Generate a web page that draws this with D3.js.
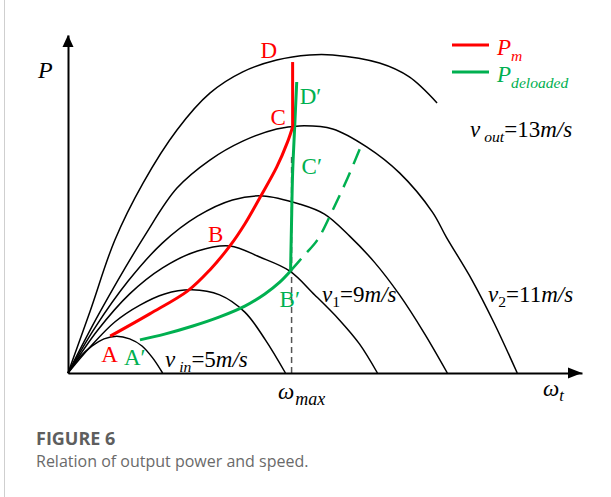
<!DOCTYPE html>
<html>
<head>
<meta charset="utf-8">
<script src="https://cdn.jsdelivr.net/npm/d3@7"></script>
<style>
  html, body { margin: 0; padding: 0; background: #fff; }
  svg { display: block; }
</style>
</head>
<body>
<svg id="chart" width="611" height="497"></svg>
<script>
// Turbine power vs rotor speed, one curve per wind speed: [omega, P]
const curveVin = [[0,0],[2.3,4.7],[4.7,8.0],[7.0,10.1],[9.5,10.9],[12.0,10.1],[14.4,8.0],[16.5,4.4],[18.4,0]];
const curveV7 = [[0,0],[4.3,7.7],[9.1,15.1],[14.0,20.1],[18.8,23.4],[24.1,24.6],[29.5,23.1],[34.4,18.0],[38.4,9.8],[42.3,0]];
const curveV1 = [[0,0],[5.8,12.7],[12.0,23.4],[18.4,31.1],[25.2,36.1],[31.5,37.6],[37.3,34.3],[43.1,30.2],[48.0,23.1],[52.8,15.7],[56.7,8.6],[60.2,0]];
const curveV10 = [[0,0],[5.2,13.3],[11.7,27.2],[18.4,38.5],[25.2,46.4],[32.0,51.2],[37.9,52.4],[45.0,50.0],[49.9,47.0],[54.8,40.5],[59.6,32.8],[64.5,23.1],[69.3,11.8],[73.8,0]];
const curveV2 = [[0,0],[6.2,18.0],[15.0,40.8],[21.2,54.7],[27.6,63.0],[34.0,68.6],[40.6,72.2],[45.0,73.1],[51.5,72.2],[58.1,66.9],[64.5,59.2],[70.9,47.6],[73.6,40.2],[78.6,27.5],[82.9,14.8],[87.4,0]];
const curveVout = [[0,0],[4.3,18.3],[9.1,39.3],[14.6,56.2],[21.2,71.9],[27.6,82.8],[34.0,89.1],[40.6,92.6],[47.0,94.1],[51.5,94.1],[60.6,91.7],[66.4,87.6],[71.8,79.9]];
const powerCurves = [curveVin, curveV7, curveV1, curveV10, curveV2, curveVout];

// Maximum rotor speed
const omegaMax = 43.5;
const omegaMaxLineTop = 64;

// P_m trajectory A -> B -> C, then C -> D at omega_max
const pmTrack = [[8.2,10.9],[15.9,17.5],[23.3,24.3],[27.6,30.5],[31.5,37.6],[34.4,44.1],[37.3,51.8],[40.6,60.9],[42.7,68.3],[43.7,72.8]];
const pmTop = [[43.7,72.8],[43.7,92.0]];

// P_deloaded: A' -> B' arc, B' -> D' rise, and dashed branch from B'
const pDelLow = [[14.0,9.8],[18.8,11.5],[24.3,13.9],[29.5,16.6],[34.4,19.8],[38.3,23.4],[41.2,26.9],[43.3,30.2]];
const pDelHigh = [[43.3,30.2],[43.5,45.3],[43.7,59.2],[44.1,72.8],[44.5,86.1]];
const pDelDash = [[43.3,30.2],[46.0,34.9],[48.5,39.3],[51.5,48.2],[54.4,57.7],[57.1,67.5]];

// Point names
const pmNames = ["A", "B", "C", "D"];
const pDelNames = ["A\u2032", "B\u2032", "C\u2032", "D\u2032"];

// Wind speed labels: [symbol subscript, value]
const speedLabels = [["in", "=5"], ["1", "=9"], ["2", "=11"], ["out", "=13"]];

const svg = d3.select("#chart");
const serif = "'Liberation Serif', 'Times New Roman', serif";
const RED = "#ff0000", GREEN = "#00b050";

const x = d3.scaleLinear().domain([0, 100]).range([68, 582]);
const y = d3.scaleLinear().domain([0, 100]).range([373, 35]);

// Frame edge at the left
svg.append("line").attr("x1", 4.5).attr("x2", 4.5).attr("y1", 0).attr("y2", 497)
  .attr("stroke", "#cfcfcf").attr("stroke-width", 1);

const smooth = d3.line().x(d => x(d[0])).y(d => y(d[1])).curve(d3.curveCatmullRom.alpha(0.5));
const straight = d3.line().x(d => x(d[0])).y(d => y(d[1]));

// omega_max guide
svg.append("line")
  .attr("x1", x(omegaMax)).attr("x2", x(omegaMax))
  .attr("y1", y(0)).attr("y2", y(omegaMaxLineTop))
  .attr("stroke", "#555").attr("stroke-width", 1.5).attr("stroke-dasharray", "6,4");

// Power curves
svg.append("g").selectAll("path").data(powerCurves).join("path")
  .attr("d", smooth).attr("fill", "none").attr("stroke", "#000").attr("stroke-width", 1.5);

// Axes
const xAxis = svg.append("g").attr("transform", `translate(0,${y(0)})`)
  .call(d3.axisBottom(x).tickValues([]).tickSizeOuter(0));
const yAxis = svg.append("g").attr("transform", `translate(${x(0)},0)`)
  .call(d3.axisLeft(y).tickValues([]).tickSizeOuter(0));
[xAxis, yAxis].forEach(g => g.select(".domain").attr("stroke", "#000").attr("stroke-width", 2));
// Arrow heads
svg.append("path")
  .attr("d", `M${x(0)},${y(100)} l-5.5,12 h11 z`).attr("fill", "#000");
svg.append("path")
  .attr("d", `M${x(100)},${y(0)} l-14,-5.5 v11 z`).attr("fill", "#000");

// Deloaded power
svg.append("path").attr("d", smooth(pDelDash)).attr("fill", "none")
  .attr("stroke", GREEN).attr("stroke-width", 2.5).attr("stroke-dasharray", "16,9");
svg.append("path").attr("d", smooth(pDelLow)).attr("fill", "none")
  .attr("stroke", GREEN).attr("stroke-width", 3);
svg.append("path").attr("d", smooth(pDelHigh)).attr("fill", "none")
  .attr("stroke", GREEN).attr("stroke-width", 3);

// Maximum power tracking
svg.append("path").attr("d", smooth(pmTrack)).attr("fill", "none")
  .attr("stroke", RED).attr("stroke-width", 3);
svg.append("path").attr("d", straight(pmTop)).attr("fill", "none")
  .attr("stroke", RED).attr("stroke-width", 3);

// Point names
const pmPoints = [pmTrack[0], pmTrack[4], pmTop[0], pmTop[1]];
const pmOffsets = [[-9, 26], [-22, -4], [-22, -2], [-32, -4]];
const delPoints = [pDelLow[0], pDelLow[pDelLow.length - 1], pDelHigh[2], pDelHigh[4]];
const delOffsets = [[-16, 25], [-11, 36], [9, 1], [3, 22]];
function nameLabels(names, pts, offs, color) {
  svg.append("g").selectAll("text").data(names).join("text")
    .attr("x", (d, i) => x(pts[i][0]) + offs[i][0])
    .attr("y", (d, i) => y(pts[i][1]) + offs[i][1])
    .attr("font-family", serif).attr("font-size", 23).attr("fill", color)
    .text(d => d);
}
nameLabels(pmNames, pmPoints, pmOffsets, RED);
nameLabels(pDelNames, delPoints, delOffsets, GREEN);

// Text built from runs: {t, it (italic), sub (subscript)}
function richText(px, py, runs, size, color, shift, subScale) {
  const k = shift === undefined ? 0.2 : shift;
  const ss = subScale === undefined ? 0.68 : subScale;
  const t = svg.append("text").attr("x", px).attr("y", py)
    .attr("font-family", serif).attr("font-size", size).attr("fill", color);
  let down = false;
  runs.forEach(r => {
    const s = t.append("tspan").text(r.t)
      .attr("font-style", r.it ? "italic" : "normal");
    if (r.sub && !down) { s.attr("dy", size * k).attr("font-size", size * ss); down = true; }
    else if (r.sub) { s.attr("font-size", size * ss); }
    else if (down) { s.attr("dy", -size * k); down = false; }
    if (r.dx) s.attr("dx", r.dx);
  });
  return t;
}

// Wind speed labels
const speedPos = [[165, 367], [322, 302], [488, 302], [470, 137]];
speedLabels.forEach((lab, i) => {
  const gap = lab[0].length > 1 ? 4 : 0;
  richText(speedPos[i][0], speedPos[i][1], [
    { t: "v", it: true },
    { t: lab[0], it: lab[0].length > 1, sub: true, dx: gap },
    { t: lab[1] },
    { t: "m/s", it: true }
  ], 23, "#000");
});

// Axis labels
richText(38, 78, [{ t: "P", it: true }], 24, "#000");
richText(278, 399, [{ t: "\u03c9", it: true }, { t: "max", it: true, sub: true, dx: 1 }], 23, "#000", 0.26, 0.78);
richText(543, 396, [{ t: "\u03c9", it: true }, { t: "t", it: true, sub: true }], 23, "#000", 0.22, 0.72);

// Legend
const legend = [["m", RED], ["deloaded", GREEN]];
legend.forEach((l, i) => {
  const ly = 45 + i * 27;
  svg.append("line").attr("x1", 452).attr("x2", 489).attr("y1", ly).attr("y2", ly)
    .attr("stroke", l[1]).attr("stroke-width", 3);
  richText(497, ly + 10, [{ t: "P", it: true }, { t: l[0], it: true, sub: true }], 23, l[1], 0.25);
});

// Caption
svg.append("text").attr("x", 36).attr("y", 445)
  .attr("font-family", "'Open Sans', 'Noto Sans', sans-serif").attr("font-weight", 700)
  .attr("font-size", 18).attr("fill", "#5e5e5e").text("FIGURE 6");
svg.append("text").attr("x", 36).attr("y", 467)
  .attr("font-family", "'Open Sans', 'Noto Sans', sans-serif")
  .attr("font-size", 16).attr("fill", "#6a6a6a").text("Relation of output power and speed.");
</script>
</body>
</html>
